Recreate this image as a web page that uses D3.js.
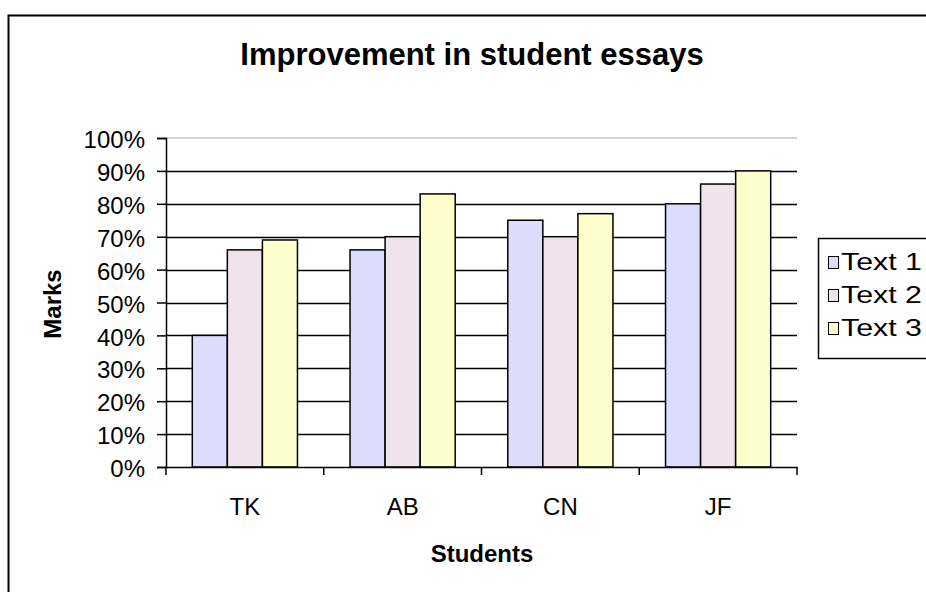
<!DOCTYPE html>
<html>
<head>
<meta charset="utf-8">
<script src="https://cdn.jsdelivr.net/npm/d3@7"></script>
<style>
  body { margin: 0; background: #fff; }
  text { font-family: Arial, "Liberation Sans", sans-serif; fill: #000; }
</style>
</head>
<body>
<div id="chart"></div>
<script>
const students = ["TK", "AB", "CN", "JF"];
const seriesNames = ["Text 1", "Text 2", "Text 3"];
const text1 = [40, 66, 75, 80];
const text2 = [66, 70, 70, 86];
const text3 = [69, 83, 77, 90];
const yTicks = [0, 10, 20, 30, 40, 50, 60, 70, 80, 90, 100];
const colors = ["#DCDCFE", "#F1E3EB", "#FEFECC"];

const W = 926, H = 592;
const PLOT = { LEFT: 166, RIGHT: 797, TOP: 138, BOTTOM: 467 };
const FONT = "Arial, 'Liberation Sans', sans-serif";

const svg = d3.select("#chart").append("svg")
  .attr("width", W).attr("height", H);

// chart frame, runs off the right/bottom of the image
svg.append("rect")
  .attr("x", 8.5).attr("y", 15.5)
  .attr("width", 940).attr("height", 600)
  .attr("fill", "#fff").attr("stroke", "#000").attr("stroke-width", 2);

svg.append("text")
  .attr("x", 472).attr("y", 65)
  .attr("text-anchor", "middle")
  .attr("font-size", 31).attr("font-weight", "bold")
  .text("Improvement in student essays");

const x = d3.scaleBand().domain(students)
  .range([PLOT.LEFT, PLOT.RIGHT]).paddingInner(0).paddingOuter(0);
const y = d3.scaleLinear().domain([0, 100]).range([PLOT.BOTTOM, PLOT.TOP]);
// gap width 150% -> bar = band / 4.5
const barW = x.bandwidth() / 4.5;
const gap = barW * 0.75;

// plot area top border (grey)
svg.append("line")
  .attr("x1", PLOT.LEFT).attr("x2", PLOT.RIGHT)
  .attr("y1", PLOT.TOP).attr("y2", PLOT.TOP)
  .attr("stroke", "#c8c8c8").attr("stroke-width", 1.5);

// gridlines
svg.append("g").selectAll("line")
  .data(yTicks.filter(d => d > 0 && d < 100))
  .join("line")
  .attr("x1", PLOT.LEFT).attr("x2", PLOT.RIGHT)
  .attr("y1", d => Math.round(y(d)) + 0.5).attr("y2", d => Math.round(y(d)) + 0.5)
  .attr("stroke", "#000").attr("stroke-width", 1.5);

// bars
const series = [text1, text2, text3];
series.forEach((vals, si) => {
  svg.append("g").selectAll("rect")
    .data(students.map((s, i) => ({ s, v: vals[i] })))
    .join("rect")
    .attr("x", d => x(d.s) + gap + si * barW)
    .attr("y", d => y(d.v))
    .attr("width", barW)
    .attr("height", d => y(0) - y(d.v))
    .attr("fill", colors[si])
    .attr("stroke", "#000").attr("stroke-width", 1.5);
});

// y axis
const yAxis = svg.append("g")
  .attr("transform", `translate(${PLOT.LEFT},0)`)
  .call(d3.axisLeft(y).tickValues(yTicks).tickFormat(d => d + "%").tickSize(9).tickPadding(12));
yAxis.selectAll("text").attr("font-size", 24).attr("font-family", FONT).attr("dy", "0.4em");

// x axis
const xAxis = svg.append("g")
  .attr("transform", `translate(0,${PLOT.BOTTOM})`)
  .call(d3.axisBottom(x).tickSize(0).tickPadding(31));
xAxis.selectAll("text").attr("font-size", 24).attr("font-family", FONT);
xAxis.append("g").selectAll("line")
  .data(students.map(s => x(s)).concat([PLOT.RIGHT]))
  .join("line")
  .attr("x1", d => d).attr("x2", d => d)
  .attr("y1", 0).attr("y2", 8)
  .attr("stroke", "#000").attr("stroke-width", 1.5);

svg.selectAll(".domain").attr("stroke", "#000").attr("stroke-width", 1.5);
svg.selectAll(".tick line").attr("stroke", "#000").attr("stroke-width", 1.5);

// axis titles
svg.append("text")
  .attr("transform", "translate(61,304) rotate(-90)")
  .attr("text-anchor", "middle")
  .attr("font-size", 24).attr("font-weight", "bold")
  .text("Marks");
svg.append("text")
  .attr("x", 482).attr("y", 562)
  .attr("text-anchor", "middle")
  .attr("font-size", 24).attr("font-weight", "bold")
  .text("Students");

// legend, clipped by the right edge
const legend = svg.append("g");
legend.append("rect")
  .attr("x", 818.5).attr("y", 238.5)
  .attr("width", 130).attr("height", 120)
  .attr("fill", "#fff").attr("stroke", "#000").attr("stroke-width", 1.5);
seriesNames.forEach((name, i) => {
  const ly = 270 + i * 33;
  legend.append("rect")
    .attr("x", 828.5).attr("y", ly - 13.5)
    .attr("width", 10).attr("height", 12)
    .attr("fill", colors[i]).attr("stroke", "#000").attr("stroke-width", 1);
  legend.append("text")
    .attr("x", 841).attr("y", ly)
    .attr("font-size", 24)
    .attr("textLength", 81).attr("lengthAdjust", "spacingAndGlyphs")
    .text(name);
});
</script>
</body>
</html>
